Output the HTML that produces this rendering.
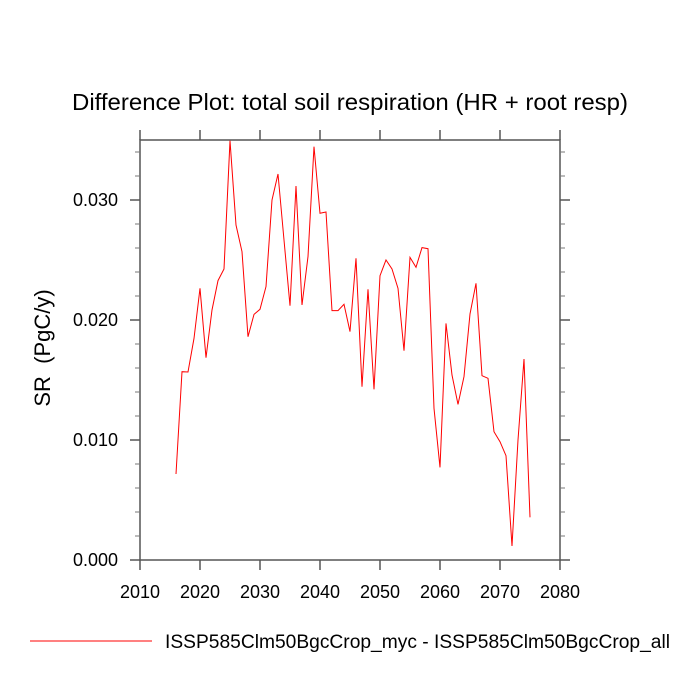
<!DOCTYPE html>
<html><head><meta charset="utf-8"><style>
html,body{margin:0;padding:0;background:#fff;width:700px;height:700px;overflow:hidden}
text{font-family:"Liberation Sans",sans-serif;fill:#000}
</style></head><body>
<svg id="chart" width="700" height="700" xmlns="http://www.w3.org/2000/svg">
<text x="72" y="110" font-size="23" textLength="556" lengthAdjust="spacingAndGlyphs">Difference Plot: total soil respiration (HR + root resp)</text>
<text transform="translate(50,348) rotate(-90)" text-anchor="middle" font-size="22" xml:space="preserve">SR  (PgC/y)</text>
<g id="axes"></g>
<g id="series"></g>
<line x1="30" y1="641" x2="152" y2="641" stroke="#ff0000" stroke-width="1"/>
<text x="165" y="648" font-size="19" textLength="505" lengthAdjust="spacingAndGlyphs">ISSP585Clm50BgcCrop_myc - ISSP585Clm50BgcCrop_all</text>
</svg>
<script>
const years = [];
for (let y = 2016; y <= 2075; y++) years.push(y);
const values = [0.00717,0.01569,0.01567,0.01847,0.02264,0.01686,0.02083,0.02328,0.02425,0.03494,
0.02792,0.02569,0.01861,0.02047,0.02089,0.02278,0.0300,0.03217,0.02667,0.02119,
0.03117,0.02125,0.02528,0.03444,0.02889,0.0290,0.02078,0.02078,0.02131,0.01903,
0.02514,0.01444,0.02256,0.01422,0.02369,0.0250,0.02425,0.02264,0.01744,0.02522,
0.02439,0.02603,0.02594,0.01264,0.00772,0.01972,0.01542,0.01297,0.01528,0.0205,
0.02306,0.01536,0.01514,0.01069,0.00986,0.00869,0.00117,0.0100,0.01675,0.00356];
const xTicks = [2010,2020,2030,2040,2050,2060,2070,2080];
const yTicks = [0.000,0.010,0.020,0.030];
const yTickLabels = ["0.000","0.010","0.020","0.030"];
const yMinorTicks = [0.002,0.004,0.006,0.008,0.012,0.014,0.016,0.018,0.022,0.024,0.026,0.028,0.032,0.034];

const L=140,R=560,T=140,B=560;
const xs = v => L + (v-2010)/(2080-2010)*(R-L);
const ys = v => B - v/0.035*(B-T);
const NS="http://www.w3.org/2000/svg";
const axes=document.getElementById('axes');
function mk(tag, attrs, parent){const e=document.createElementNS(NS,tag);for(const k in attrs)e.setAttribute(k,attrs[k]);parent.appendChild(e);return e;}
const box=mk('rect',{x:L,y:T,width:R-L,height:B-T,fill:'none',stroke:'#555','stroke-width':1.5},axes);


xTicks.forEach(t=>{
  const x=xs(t);
  const a=mk('line',{x1:x,y1:B,x2:x,y2:B+10,stroke:'#555','stroke-width':1.5},axes);
  
  
  const b=mk('line',{x1:x,y1:T,x2:x,y2:T-10,stroke:'#555','stroke-width':1.5},axes);
  
  
  const lb=mk('text',{x:x,y:B+38,'text-anchor':'middle','font-size':'18'},axes);
  lb.textContent=t;
  
  
});
yTicks.forEach((t,i)=>{
  const y=ys(t);
  const a=mk('line',{x1:L-10,y1:y,x2:L,y2:y,stroke:'#555','stroke-width':1.5},axes);
  
  
  const b=mk('line',{x1:R,y1:y,x2:R+10,y2:y,stroke:'#555','stroke-width':1.5},axes);
  
  
  const lb=mk('text',{x:L-22,y:y+6,'text-anchor':'end','font-size':'18'},axes);
  lb.textContent=yTickLabels[i];
  
  
});
yMinorTicks.forEach(t=>{
  const y=ys(t);
  const a=mk('line',{x1:L-5,y1:y,x2:L,y2:y,stroke:'#777','stroke-width':1},axes);
  
  
  const b=mk('line',{x1:R,y1:y,x2:R+5,y2:y,stroke:'#777','stroke-width':1},axes);
  
  
});
const pts=years.map((yr,i)=>xs(yr).toFixed(1)+','+ys(values[i]).toFixed(1)).join(' ');
const line=mk('polyline',{points:pts,fill:'none',stroke:'#ff0000','stroke-width':1},document.getElementById('series'));


</script>
</body></html>
